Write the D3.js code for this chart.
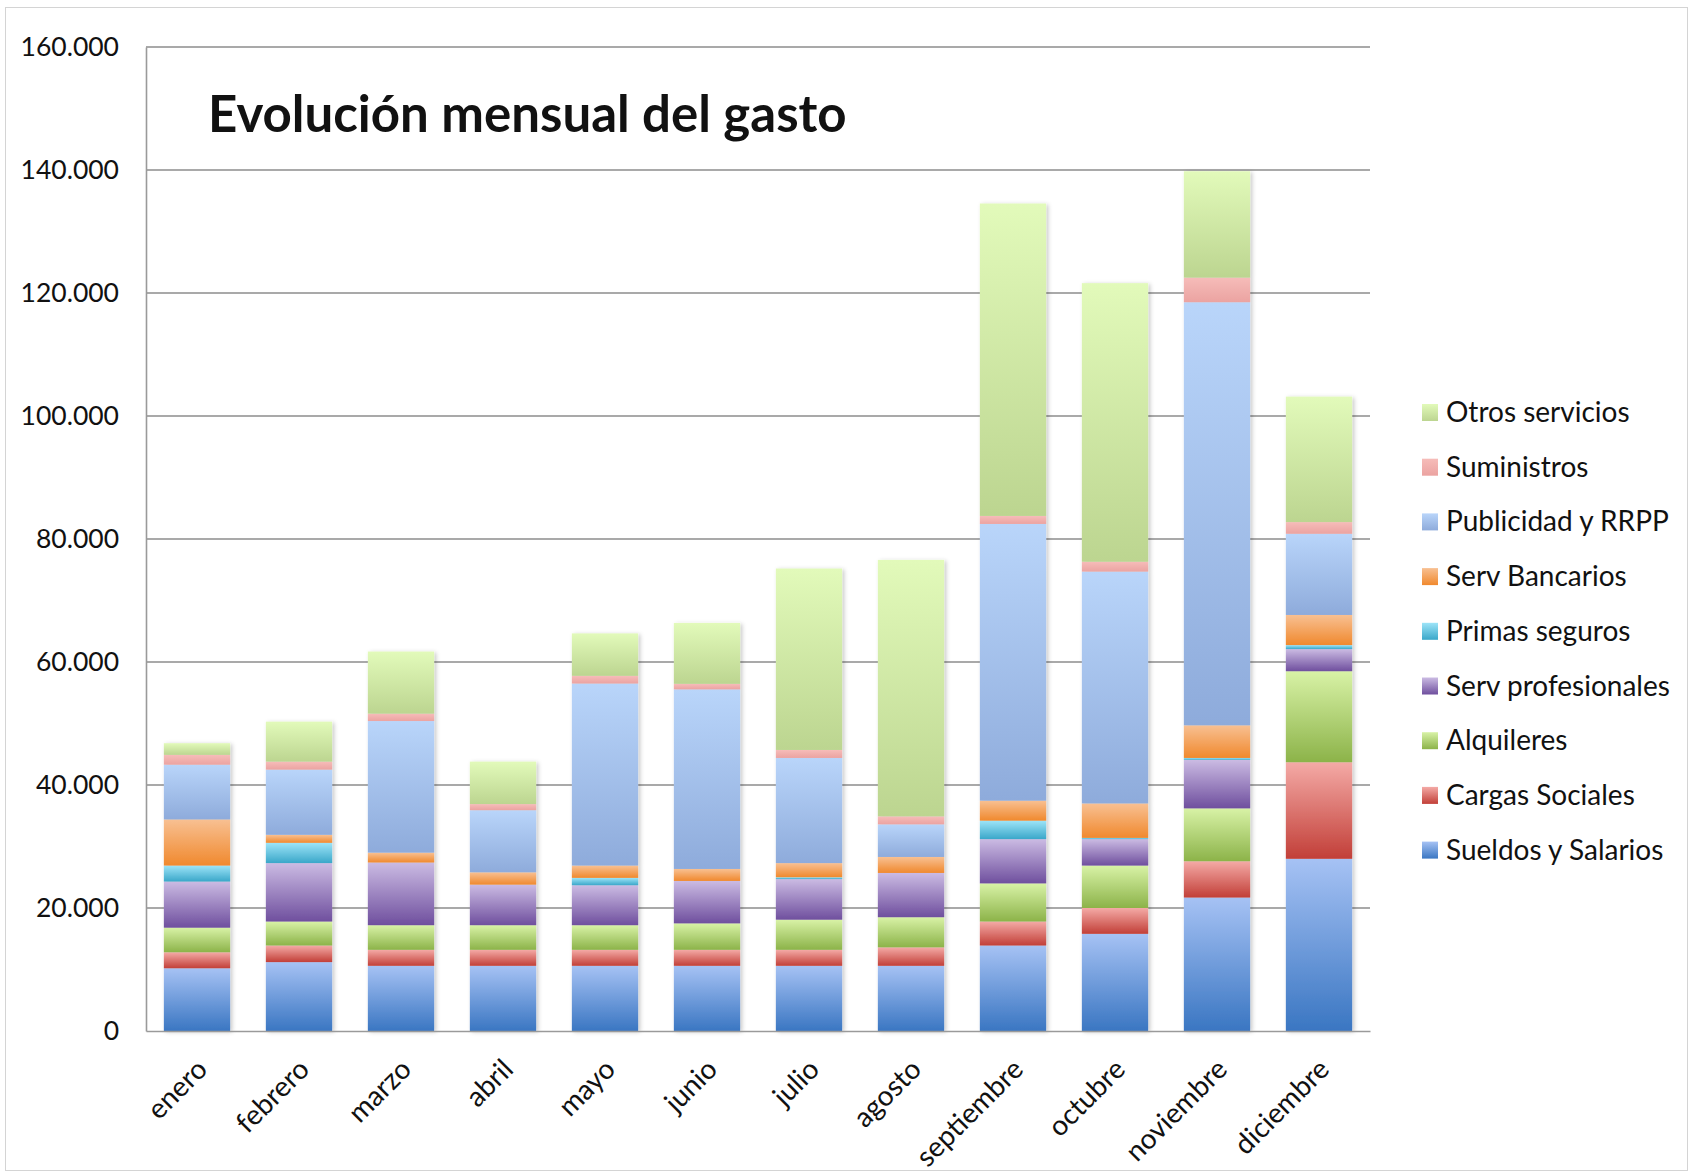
<!DOCTYPE html>
<html>
<head>
<meta charset="utf-8">
<script src="https://cdn.jsdelivr.net/npm/d3@7/dist/d3.min.js"></script>
<style>
  body { margin: 0; background: #fff; }
  text { font-family: Lato, "Open Sans", sans-serif; fill: #111; }
</style>
</head>
<body>
<div id="chart"></div>
<script>
const MONTHS = ["enero", "febrero", "marzo", "abril", "mayo", "junio", "julio",
  "agosto", "septiembre", "octubre", "noviembre", "diciembre"];

// series, bottom to top of each stack
const SERIES = ["Sueldos y Salarios", "Cargas Sociales", "Alquileres", "Serv profesionales",
  "Primas seguros", "Serv Bancarios", "Publicidad y RRPP", "Suministros", "Otros servicios"];

const SUELDOS = [10200, 11200, 10600, 10600, 10600, 10600, 10600, 10600, 13900, 15800, 21700, 28000];
const CARGAS = [2600, 2700, 2600, 2600, 2600, 2600, 2600, 3000, 3900, 4200, 5900, 15700];
const ALQUILERES = [4000, 3900, 4000, 4000, 4000, 4300, 4900, 4900, 6200, 6900, 8600, 14800];
const SERV_PROF = [7500, 9500, 10200, 6600, 6500, 6900, 6600, 7200, 7200, 4300, 7900, 3600];
const PRIMAS = [2600, 3300, 0, 0, 1200, 0, 300, 0, 3000, 200, 300, 650];
const BANCARIOS = [7500, 1300, 1600, 2000, 2000, 1950, 2300, 2600, 3250, 5600, 5300, 4900];
const PUBLICIDAD = [8900, 10600, 21400, 10100, 29600, 29200, 17100, 5300, 45000, 37700, 68800, 13200];
const SUMINISTROS = [1600, 1300, 1200, 1000, 1250, 900, 1300, 1300, 1300, 1600, 4000, 1900];
const OTROS = [1900, 6500, 10100, 6900, 6900, 9900, 29500, 41700, 50800, 45300, 17300, 20400];

const Y_TICKS = [0, 20000, 40000, 60000, 80000, 100000, 120000, 140000, 160000];

// gradient colours per series: [top, bottom]
const COLORS = [
  ["#a6c2f4", "#3a76c2"],
  ["#f4aaa6", "#c23f38"],
  ["#d8f2a6", "#8cb349"],
  ["#cbbbe3", "#6f4f9e"],
  ["#9de4f8", "#3aa7c9"],
  ["#f8c092", "#f0892e"],
  ["#b9d5fa", "#8eabdb"],
  ["#f6bcb9", "#eba3a1"],
  ["#e2faba", "#bcd590"]
];

const VALUES = [SUELDOS, CARGAS, ALQUILERES, SERV_PROF, PRIMAS, BANCARIOS, PUBLICIDAD, SUMINISTROS, OTROS];

const width = 1690;
const height = 1173;
const margin = { top: 47, left: 146, right: 320, bottom: 142 };

const svg = d3.select("#chart").append("svg")
  .attr("width", width)
  .attr("height", height);

svg.append("rect")
  .attr("x", 5.5).attr("y", 7.5)
  .attr("width", width - 8).attr("height", height - 10)
  .attr("fill", "#fff")
  .attr("stroke", "#d4d4d4");

const defs = svg.append("defs");
COLORS.forEach((c, i) => {
  const g = defs.append("linearGradient")
    .attr("id", `grad-${i}`)
    .attr("x1", 0).attr("x2", 0).attr("y1", 0).attr("y2", 1);
  g.append("stop").attr("offset", "0%").attr("stop-color", c[0]);
  g.append("stop").attr("offset", "100%").attr("stop-color", c[1]);
});
const shadow = defs.append("filter").attr("id", "shadow")
  .attr("x", "-10%").attr("y", "-5%").attr("width", "130%").attr("height", "115%");
shadow.append("feDropShadow")
  .attr("dx", 2).attr("dy", 1).attr("stdDeviation", 2)
  .attr("flood-color", "#000").attr("flood-opacity", 0.22);

const table = MONTHS.map((m, i) => {
  const row = { month: m };
  SERIES.forEach((s, j) => { row[s] = VALUES[j][i]; });
  return row;
});

const stack = d3.stack().keys(SERIES)(table);

const x = d3.scaleBand()
  .domain(MONTHS)
  .range([margin.left, width - margin.right])
  .paddingInner(0.35)
  .paddingOuter(0.175);

const y = d3.scaleLinear()
  .domain([0, 160000])
  .range([height - margin.bottom, margin.top]);

const locale = d3.formatLocale({ decimal: ",", thousands: ".", grouping: [3], currency: ["", "€"] });
const fmt = locale.format(",d");

// gridlines
svg.append("g")
  .selectAll("line")
  .data(Y_TICKS.slice(1))
  .join("line")
  .attr("x1", margin.left)
  .attr("x2", width - margin.right)
  .attr("y1", (d) => y(d))
  .attr("y2", (d) => y(d))
  .attr("stroke", "#8c8c8c")
  .attr("stroke-width", 1.6);

// y axis
const yAxis = svg.append("g")
  .attr("transform", `translate(${margin.left},0)`)
  .call(d3.axisLeft(y).tickValues(Y_TICKS).tickFormat(fmt).tickSize(0).tickPadding(27));
yAxis.select(".domain").attr("stroke", "#9a9a9a").attr("stroke-width", 1.6);
yAxis.selectAll("text")
  .style("font-size", "26.5px")
  .style("font-family", "Lato, sans-serif")
  .attr("fill", "#111");

// bars
const barGroups = svg.append("g").attr("class", "bars");
MONTHS.forEach((m, i) => {
  const g = barGroups.append("g").attr("filter", "url(#shadow)");
  stack.forEach((layer, j) => {
    const d = layer[i];
    if (d[1] - d[0] <= 0) return;
    g.append("rect")
      .attr("x", x(m))
      .attr("width", x.bandwidth())
      .attr("y", y(d[1]))
      .attr("height", y(d[0]) - y(d[1]))
      .attr("fill", `url(#grad-${j})`);
  });
});

// x axis baseline
const xAxis = svg.append("g")
  .attr("transform", `translate(0,${y(0)})`)
  .call(d3.axisBottom(x).tickSize(0).tickPadding(0));
xAxis.select(".domain").attr("stroke", "#9a9a9a").attr("stroke-width", 1.6);
xAxis.selectAll(".tick text")
  .attr("text-anchor", "end")
  .attr("dy", 0)
  .attr("transform", "translate(12,40) rotate(-45)")
  .style("font-size", "28px")
  .style("font-family", "Lato, sans-serif")
  .attr("fill", "#111");

// title
svg.append("text")
  .attr("x", 208)
  .attr("y", 132)
  .style("font-size", "51px")
  .style("font-weight", "bold")
  .text("Evolución mensual del gasto");

// legend, top item = last series
const legend = svg.append("g")
  .attr("transform", "translate(1422,404)");
const legendItems = SERIES.slice().reverse();
legendItems.forEach((s, k) => {
  const j = SERIES.indexOf(s);
  const row = legend.append("g").attr("transform", `translate(0,${k * 54.7})`);
  row.append("rect")
    .attr("width", 16).attr("height", 17)
    .attr("fill", `url(#grad-${j})`);
  row.append("text")
    .attr("x", 24)
    .attr("y", 18)
    .style("font-size", "28px")
    .text(s);
});
</script>
</body>
</html>
